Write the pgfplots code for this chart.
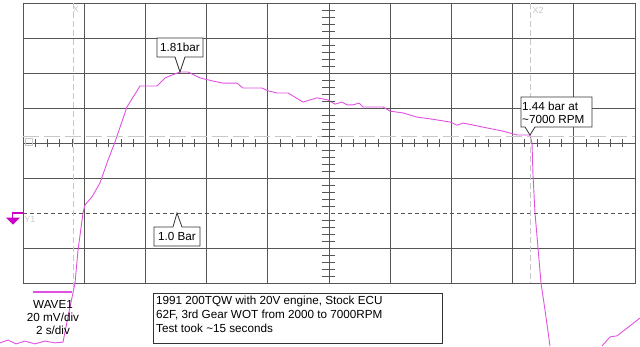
\documentclass[border=0pt]{standalone}
\usepackage{pgfplots}
\pgfplotsset{compat=1.18}
\usepackage{fontspec}
\setmainfont{Liberation Sans}
\definecolor{gridc}{RGB}{85,85,85}
\definecolor{trace}{RGB}{225,80,225}
\definecolor{mag}{RGB}{200,0,200}
\definecolor{lgray}{RGB}{200,200,200}
\begin{document}
\begin{tikzpicture}
\begin{axis}[scale only axis, width=612bp, height=280bp,
  xmin=0, xmax=10, ymin=-4, ymax=4,
  xtick={1,...,9}, ytick={-3,-1,0,1,2,3},
  xticklabels={}, yticklabels={}, major tick length=0pt,
  grid=major, major grid style={draw=gridc, line width=0.9pt},
  axis line style={draw=gridc, line width=0.9pt},
  clip=false]
\coordinate (TL) at (axis cs:-0.375817,4.085714);
\addplot[trace, line width=0.9pt] coordinates {
(-0.376,-5.71) (-0.245,-5.63) (-0.114,-5.74) (0.033,-5.66) (0.196,-5.74)
(0.359,-5.66) (0.523,-5.71) (0.654,-5.69) (0.735,-4.97) (0.850,-4.00)
(0.899,-3.06) (0.980,-2.00) (1.013,-1.77) (1.127,-1.54) (1.258,-1.14)
(1.389,-0.49) (1.503,0.03) (1.699,1.03) (1.912,1.63) (2.190,1.63)
(2.320,1.86) (2.435,1.94) (2.565,2.03) (2.696,2.03) (2.892,1.86)
(3.105,1.77) (3.268,1.71) (3.497,1.71) (3.595,1.57) (3.905,1.57)
(4.003,1.49) (4.150,1.43) (4.330,1.43) (4.575,1.17) (4.804,1.29)
(4.984,1.23) (5.098,1.11) (5.212,1.17) (5.294,1.09) (5.392,1.09)
(5.490,1.14) (5.556,1.03) (5.882,1.03) (5.997,0.91) (6.209,0.86)
(6.438,0.74) (6.650,0.69) (6.977,0.60) (7.092,0.51) (7.190,0.57)
(7.418,0.49) (7.582,0.43) (7.843,0.34) (8.072,0.23) (8.284,0.23)
(8.317,0.00) (8.333,-0.91) (8.366,-2.00) (8.415,-3.00) (8.464,-4.00)
(8.529,-4.77) (8.611,-5.80)
};
\addplot[trace, line width=0.9pt] coordinates {
(9.461,-5.80) (9.592,-5.54) (9.706,-5.51) (9.869,-5.29) (10.082,-5.00)
};
\end{axis}
\begin{scope}[shift={(TL)}, x=1bp, y=-1bp, font=\fontsize{11.7bp}{14bp}\selectfont]
  % reference / cursor lines
  \draw[gridc, line width=0.9pt, dash pattern=on 4bp off 3bp] (23,213) -- (635,213);
  \draw[lgray, line width=0.9pt, dash pattern=on 16bp off 5bp] (23,136) -- (635,136);
  \draw[lgray, line width=0.9pt, dash pattern=on 6bp off 3bp] (73,3) -- (73,290);
  \draw[lgray, line width=0.9pt, dash pattern=on 6bp off 3bp] (530,3) -- (530,283);
  \node[lgray, font=\fontsize{9bp}{10bp}\selectfont] at (76,9) {X};
  \node[lgray, font=\fontsize{9bp}{10bp}\selectfont] at (538,10) {X2};
  \node[lgray, font=\fontsize{9bp}{10bp}\selectfont] at (30,219) {Y1};
  \draw[lgray, line width=0.6pt] (25,138) rectangle (32,145);
  % center rulers
  \foreach \i in {1,...,49} {
    \pgfmathtruncatemacro{\m}{mod(\i,5)}
    \ifnum\m=0\relax\else
      \draw[gridc, line width=0.8pt] ({23+12.24*\i},139) -- ({23+12.24*\i},147);
    \fi
  }
  \foreach \j in {1,...,39} {
    \pgfmathtruncatemacro{\m}{mod(\j,5)}
    \ifnum\m=0\relax\else
      \draw[gridc, line width=0.8pt] (322,{3+7*\j}) -- (335,{3+7*\j});
    \fi
  }
  % Y1 marker
  \draw[mag, line width=1.3pt] (23,213) -- (12.5,213) -- (12.5,218);
  \fill[mag] (6,217.5) -- (20,217.5) -- (13,224.5) -- cycle;
  % callouts
  \draw[fill=white, draw=black!80, line width=0.8pt]
    (157,38) -- (203,38) -- (203,57) -- (185,57) -- (180,72) -- (175,57) -- (157,57) -- cycle;
  \node at (180,47.5) {1.81bar};
  \draw[fill=white, draw=black!80, line width=0.8pt]
    (154,227) -- (173,227) -- (177,213) -- (182,227) -- (200,227) -- (200,246) -- (154,246) -- cycle;
  \node at (177,236.5) {1.0 Bar};
  \draw[fill=white, draw=black!80, line width=0.8pt]
    (521,97) -- (592,97) -- (592,127) -- (535,127) -- (530,135) -- (525,127) -- (521,127) -- cycle;
  \node[anchor=west, inner sep=0pt] at (522,106) {1.44 bar at};
  \node[anchor=west, inner sep=0pt] at (522,119) {\textasciitilde7000 RPM};
  % wave label
  \draw[trace, line width=1.3pt] (33,292) -- (72,292);
  \node at (53,304) {WAVE1};
  \node at (53,317) {20 mV/div};
  \node at (53,330) {2 s/div};
  % info box
  \draw[black!80, line width=0.8pt] (153,293) rectangle (442,343);
  \node[anchor=west, inner sep=0pt] at (156,301) {1991 200TQW with 20V engine, Stock ECU};
  \node[anchor=west, inner sep=0pt] at (156,315) {62F, 3rd Gear WOT from 2000 to 7000RPM};
  \node[anchor=west, inner sep=0pt] at (156,328) {Test took \textasciitilde15 seconds};
  \pgfresetboundingbox
  \useasboundingbox (0,0) rectangle (640,346);
\end{scope}
\end{tikzpicture}
\end{document}
